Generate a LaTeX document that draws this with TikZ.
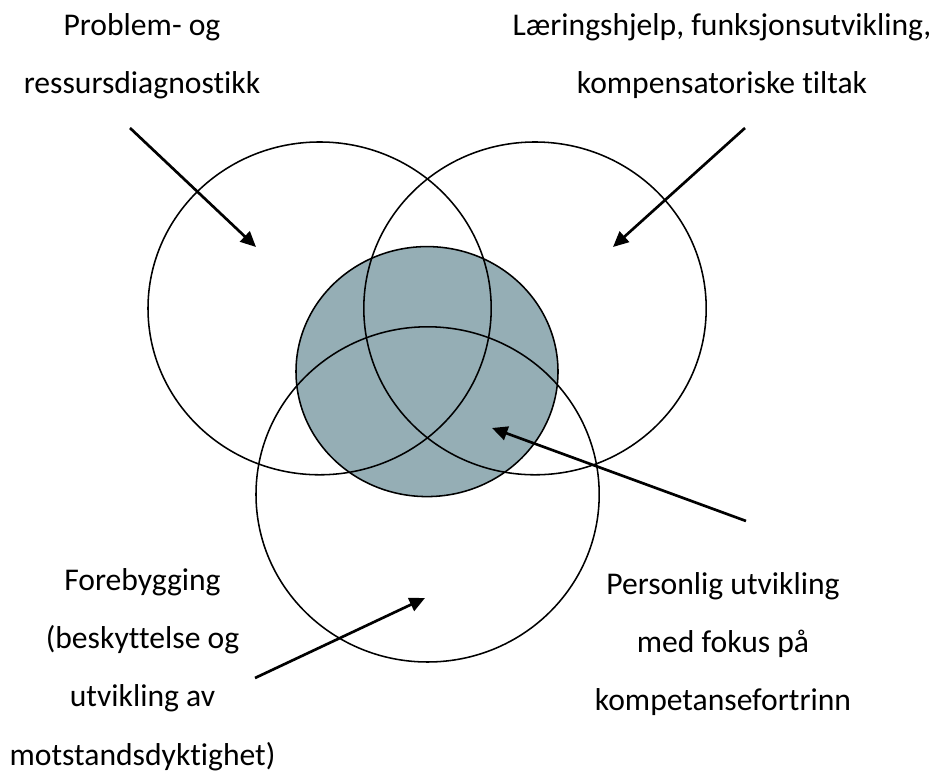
\documentclass[tikz,border=0pt]{standalone}
\usepackage{fontspec}
\setmainfont{Carlito}[Ligatures=NoCommon]
\usetikzlibrary{arrows.meta}
\definecolor{coreblue}{RGB}{149,174,181}
\begin{document}
\begin{tikzpicture}[
  ring/.style={line width=1.1pt},
  pointer/.style={line width=1.9pt,-{Triangle[length=11pt,width=10pt]}},
  label/.style={align=center,inner sep=0pt,anchor=base,font=\fontsize{22.5}{41.5}\selectfont}]
\useasboundingbox (0,0) rectangle (23.3,19.35);

% Core circle
\fill[coreblue] (10.675,10.06) ellipse (3.275 and 3.125);
\draw[ring] (10.675,10.06) ellipse (3.275 and 3.125);

% Three outer circles
\draw[ring] (7.99,11.64) ellipse (4.29 and 4.16);
\draw[ring] (13.375,11.64) ellipse (4.28 and 4.16);
\draw[ring] (10.69,6.99) ellipse (4.29 and 4.19);

% Labels (base = last line)
\node[label] (diag) at (3.55,17.0) {Problem- og\\ressursdiagnostikk};
\node[label] (help) at (18.05,17.0) {Læringshjelp, funksjonsutvikling,\\kompensatoriske tiltak};
\node[label] (prev) at (3.5625,0.22) {Forebygging\\(beskyttelse og\\utvikling av\\motstandsdyktighet)};
\node[label] (pers) at (18.075,1.575) {Personlig utvikling\\med fokus på\\kompetansefortrinn};

% Arrows
\coordinate (diag-from) at (3.25,16.15);
\coordinate (diag-to) at (6.4,13.175);
\coordinate (help-from) at (18.625,16.15);
\coordinate (help-to) at (15.325,13.175);
\coordinate (pers-from) at (18.65,6.325);
\coordinate (pers-to) at (12.3,8.65);
\coordinate (prev-from) at (6.375,2.4);
\coordinate (prev-to) at (10.625,4.4);
\draw[pointer] (diag-from) -- (diag-to);
\draw[pointer] (help-from) -- (help-to);
\draw[pointer] (pers-from) -- (pers-to);
\draw[pointer] (prev-from) -- (prev-to);
\end{tikzpicture}
\end{document}
